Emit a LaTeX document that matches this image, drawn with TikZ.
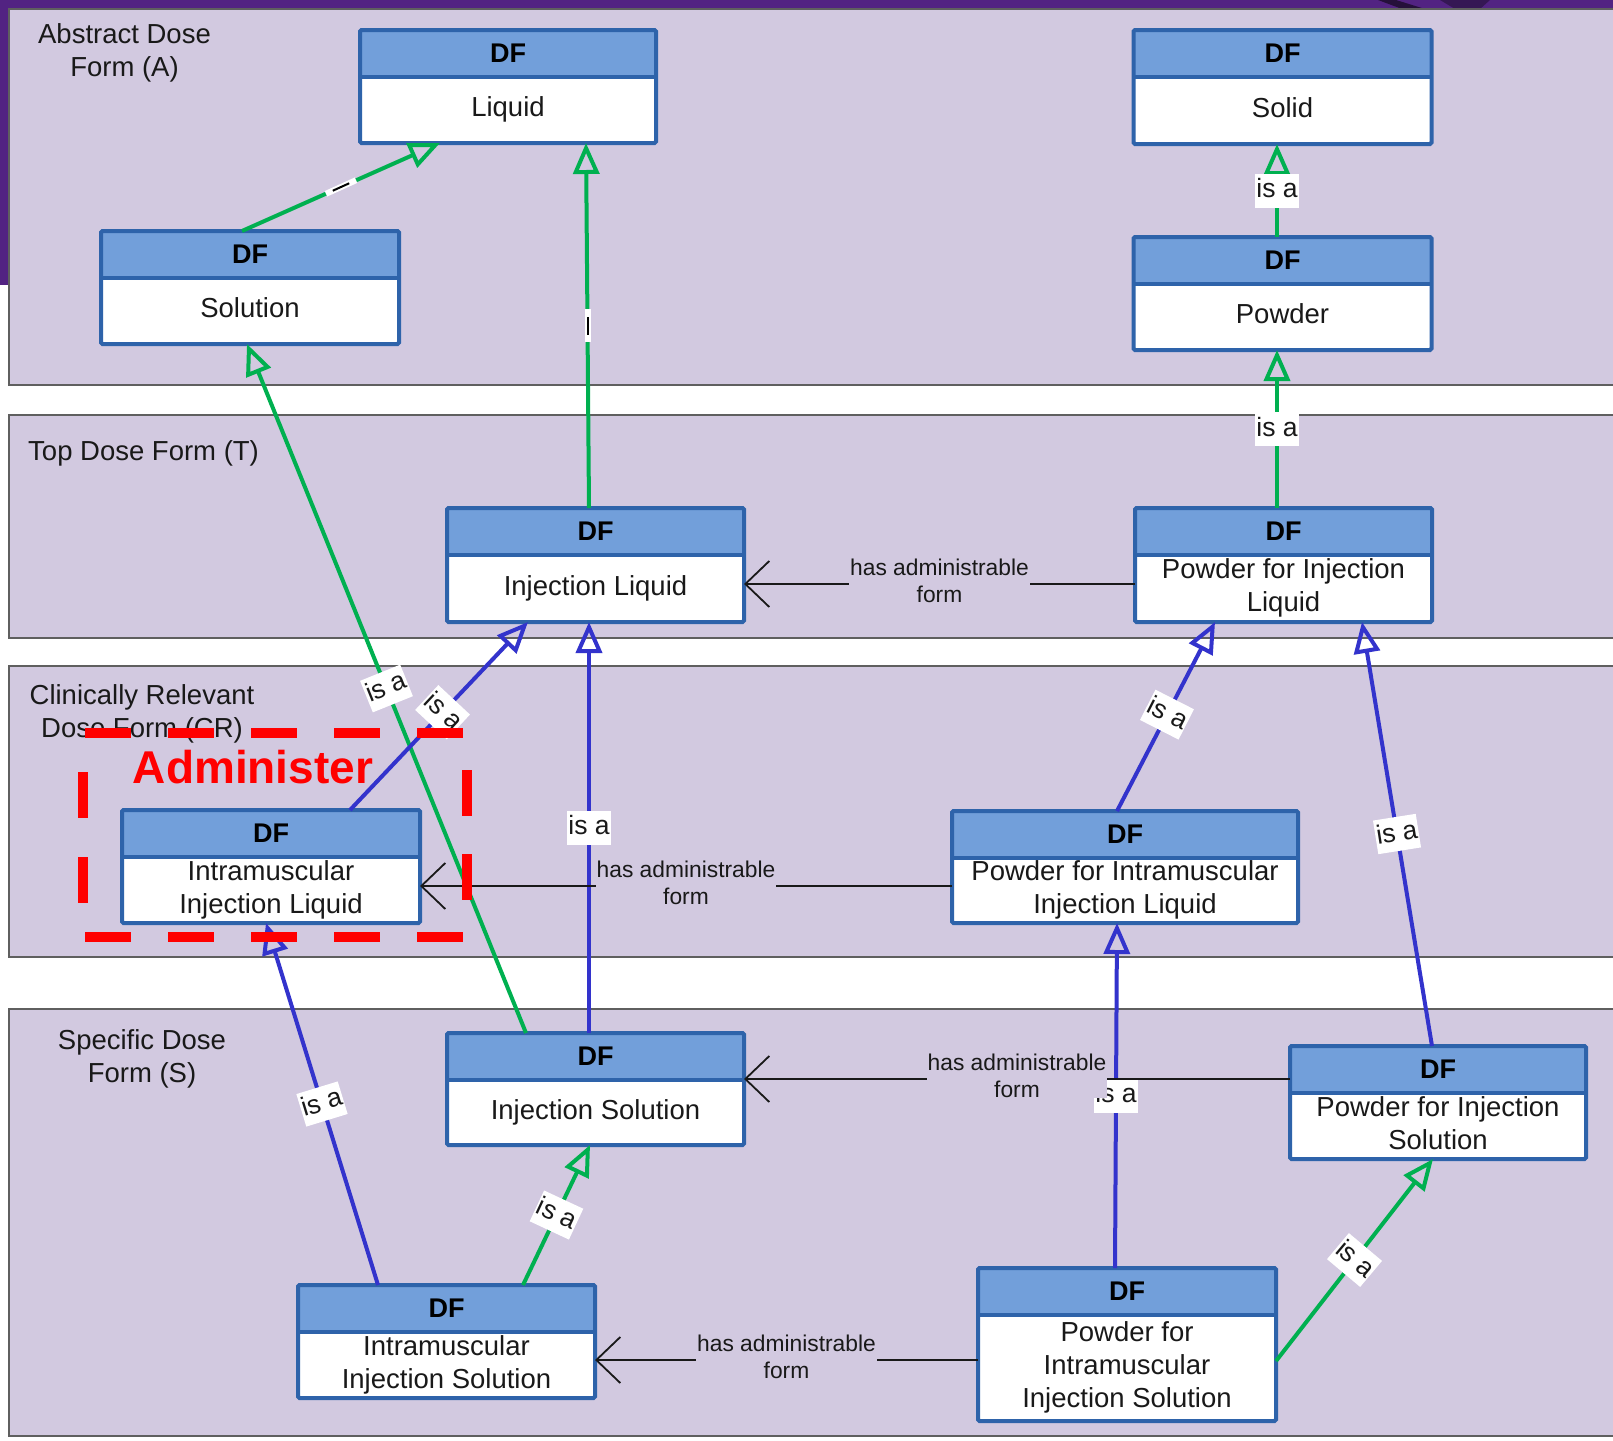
\documentclass[tikz,border=0pt]{standalone}
\usepackage{fontspec}
\setmainfont{Liberation Sans}
\usetikzlibrary{arrows.meta,calc}

\definecolor{lav}{RGB}{210,201,224}
\definecolor{slidepurple}{RGB}{82,35,130}
\definecolor{hdrblue}{RGB}{114,159,218}
\definecolor{edgeblue}{RGB}{46,99,170}
\definecolor{isgreen}{RGB}{0,176,80}
\definecolor{isblue}{RGB}{51,51,204}
\definecolor{panelgray}{RGB}{95,95,95}
\definecolor{ink}{RGB}{25,25,25}

\tikzset{
  panel/.style={fill=lav, draw=panelgray, line width=2.5pt},
  paneltext/.style={font=\fontsize{27.5}{33}\selectfont, text=ink, align=center, inner sep=0pt},
  dfbody/.style={fill=white, inner sep=0pt, outer sep=0pt},
  dfframe/.style={draw=edgeblue, line width=4pt, rounded corners=1.5pt},
  dfhead/.style={font=\fontsize{27}{33}\selectfont\bfseries, text=black, inner sep=0pt},
  dftext/.style={font=\fontsize{27.5}{33}\selectfont, text=ink, align=center, inner sep=0pt, text depth=6pt},
  greenisa/.style={draw=isgreen, line width=4pt, -{Triangle[open, length=31pt, width=26pt]}},
  blueisa/.style={draw=isblue, line width=4pt, -{Triangle[open, length=31pt, width=26pt]}},
  isalabel/.style={fill=white, font=\fontsize{26.5}{30}\selectfont, text=ink,
    inner xsep=1pt, inner ysep=5pt, text height=19pt, text depth=5pt},
  markbox/.style={fill=white, text=black, inner sep=0pt, minimum width=33pt, minimum height=6pt},
  admline/.style={draw=ink, line width=1.8pt, -{Straight Barb[length=24pt, width=46pt]}},
  admlabel/.style={fill=lav, font=\fontsize{22.8}{27}\selectfont, text=ink, align=center,
    inner xsep=1pt, inner ysep=0pt, yshift=3pt},
  focusframe/.style={draw=red, line width=10pt, line cap=butt},
}

% A dose-form box: name, centre x, centre y, width, height, body text
\newcommand\dfbox[6]{%
  \node[dfbody, minimum width=#4pt, minimum height=#5pt] (#1) at (#2,#3) {};
  \fill[hdrblue] (#1.north west) rectangle ([yshift=-47pt]#1.north east);
  \draw[edgeblue, line width=4pt] ([yshift=-47pt]#1.north west) -- ([yshift=-47pt]#1.north east);
  \draw[dfframe] (#1.north west) rectangle (#1.south east);
  \node[dfhead] (#1-hd) at ([yshift=-23.5pt]#1.north) {DF};
  \node[dftext] (#1-tx) at ($([yshift=-47pt]#1.north)!0.5!(#1.south)$) {#6};
}

\begin{document}
\begin{tikzpicture}[x=1pt, y=-1pt]
  \useasboundingbox (0,0) rectangle (1613,1440);
  \clip (0,0) rectangle (1613,1440);

  % slide background
  \fill[white] (0,0) rectangle (1613,1440);
  \fill[slidepurple] (0,0) rectangle (1613,285);
  \fill[black!55!slidepurple] (1378,0) -- (1396,0) -- (1425,9) -- (1402,9) -- cycle;
  \fill[black!35!slidepurple] (1440,0) -- (1490,0) -- (1480,9) -- (1455,9) -- cycle;

  % layers
  \draw[panel] (9,9) rectangle (1630,385);
  \draw[panel] (9,415) rectangle (1630,638);
  \draw[panel] (9,666) rectangle (1630,957);
  \draw[panel] (9,1009) rectangle (1630,1436);

  \node[paneltext] (lblA) at (124.5,52.5) {Abstract Dose\\Form (A)};
  \node[paneltext, anchor=west] (lblT) at (28,453.5) {Top Dose Form (T)};
  \node[paneltext] (lblCR) at (142,714) {Clinically Relevant\\Dose Form (CR)};
  \node[paneltext] (lblS) at (142,1058.5) {Specific Dose\\Form (S)};

  % dose forms
  \dfbox{liquid}{508}{86.5}{296}{113}{Liquid}
  \dfbox{solid}{1282.5}{87}{298}{114}{Solid}
  \dfbox{solution}{250}{287.5}{298}{113}{Solution}
  \dfbox{powder}{1282.5}{293.5}{298}{113}{Powder}
  \dfbox{injliq}{595.5}{565}{297}{114}{Injection Liquid}
  \dfbox{pwdinjliq}{1283.5}{565}{297}{114}{Powder for Injection\\Liquid}
  \dfbox{imliq}{271}{866.5}{298}{113}{Intramuscular\\Injection Liquid}
  \dfbox{pwdimliq}{1125}{867}{346}{112}{Powder for Intramuscular\\Injection Liquid}
  \dfbox{injsol}{595.5}{1089}{297}{112}{Injection Solution}
  \dfbox{pwdinjsol}{1438}{1102.5}{296}{113}{Powder for Injection\\Solution}
  \dfbox{imsol}{446.5}{1341.5}{297}{113}{Intramuscular\\Injection Solution}
  \dfbox{pwdimsol}{1127}{1344.5}{298}{153}{Powder for\\Intramuscular\\Injection Solution}

  % "is a" links between abstract, top and specific forms
  \draw[greenisa] ([xshift=-8pt]solution.north) -- node[markbox, rotate=24.4] (mk1) {\rule[-1pt]{18pt}{2pt}} ([xshift=-68pt]liquid.south);
  \draw[greenisa] ([xshift=-6.5pt]injliq.north) -- node[markbox, rotate=90] (mk2) {\rule[-1pt]{18pt}{2pt}} ([xshift=78pt]liquid.south);
  \draw[greenisa] ([xshift=-5.5pt]powder.north) -- node[isalabel] (isa3) {is a} ([xshift=-5.5pt]solid.south);
  \draw[greenisa] ([xshift=-6.5pt]pwdinjliq.north) -- node[isalabel] (isa4) {is a} ([xshift=-5.5pt]powder.south);
  \draw[greenisa] ([xshift=-69.5pt]injsol.north) -- node[isalabel, rotate=22] (isa5) {is a} ([xshift=-3pt]solution.south);
  \draw[greenisa] ([xshift=76.5pt]imsol.north) -- node[isalabel, rotate=-25] (isa6) {is a} ([xshift=-5.5pt]injsol.south);
  \draw[greenisa] ([yshift=-16.5pt]pwdimsol.east) -- node[isalabel, rotate=-40] (isa7) {is a} ([xshift=-5pt]pwdinjsol.south);

  % "is a" links towards the clinically relevant forms
  \draw[blueisa] ([xshift=79pt]imliq.north) -- node[isalabel, pos=0.52, rotate=-43] (isa8) {is a} ([xshift=-67.5pt]injliq.south);
  \draw[blueisa] ([xshift=-6.5pt]injsol.north) -- node[isalabel] (isa9) {is a} ([xshift=-6.5pt]injliq.south);
  \draw[blueisa] ([xshift=-68.5pt]imsol.north) -- node[isalabel, rotate=17] (isa10) {is a} ([xshift=-5pt]imliq.south);
  \draw[blueisa] ([xshift=-8pt]pwdimliq.north) -- node[isalabel, pos=0.51, rotate=-27] (isa11) {is a} ([xshift=-68.5pt]pwdinjliq.south);
  \draw[blueisa] ([xshift=-6pt]pwdinjsol.north) -- node[isalabel, rotate=9] (isa12) {is a} ([xshift=78.5pt]pwdinjliq.south);
  \draw[blueisa] ([xshift=-12pt]pwdimsol.north) -- node[isalabel] (isa13) {is a} ([xshift=-8pt]pwdimliq.south);

  % "has administrable form" links
  \draw[admline] ([yshift=-19pt]pwdinjliq.west) -- node[admlabel] (adm1) {has administrable\\form} ([yshift=-19pt]injliq.east);
  \draw[admline] ([yshift=-19pt]pwdimliq.west) -- node[admlabel] (adm2) {has administrable\\form} ([yshift=-19.5pt]imliq.east);
  \draw[admline] ([yshift=23.5pt]pwdinjsol.west) -- node[admlabel] (adm3) {has administrable\\form} ([yshift=10pt]injsol.east);
  \draw[admline] ([yshift=-15.5pt]pwdimsol.west) -- node[admlabel] (adm4) {has administrable\\form} ([yshift=-18.5pt]imsol.east);

  % highlighted administrable form: dashed frame, one side at a time
  \draw[focusframe, dash pattern=on 46pt off 37pt] (85,733) -- (467,733);
  \draw[focusframe, dash pattern=on 46pt off 37pt] (85,937) -- (467,937);
  \draw[focusframe, dash pattern=on 46pt off 39pt] (83,772) -- (83,905);
  \draw[focusframe, dash pattern=on 46pt off 38pt] (467,770) -- (467,902);
  \node[font=\fontsize{46}{50}\selectfont\bfseries, text=red, inner sep=0pt] (admtitle) at (253,767) {Administer};
\end{tikzpicture}
\end{document}
